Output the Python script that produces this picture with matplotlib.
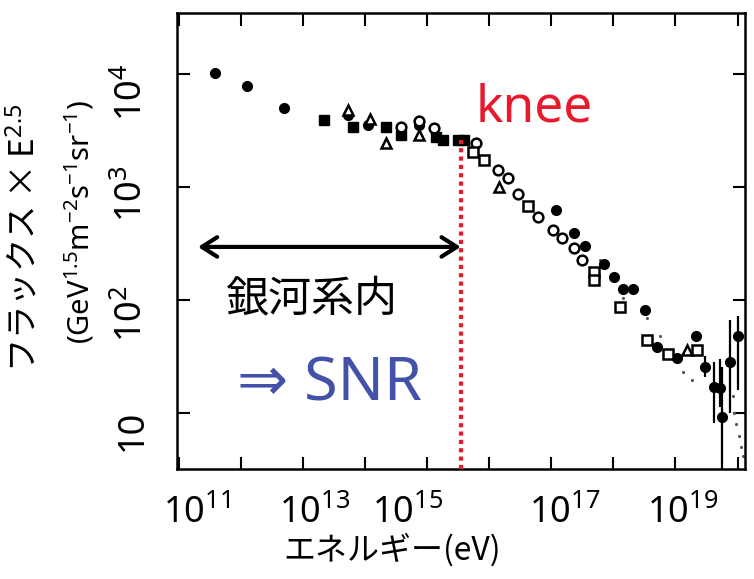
import numpy as np
import matplotlib
matplotlib.use('Agg')
import matplotlib.pyplot as plt
from matplotlib.transforms import ScaledTranslation
from matplotlib.ticker import NullLocator

plt.rcParams['font.family'] = ['Noto Sans', 'Noto Sans CJK JP', 'DejaVu Sans']
plt.rcParams['mathtext.fontset'] = 'custom'
plt.rcParams['mathtext.rm'] = 'Noto Sans'
plt.rcParams['mathtext.it'] = 'Noto Sans:italic'
plt.rcParams['mathtext.bf'] = 'Noto Sans:bold'

# ---------------- data (log10 of energy [eV], log10 of flux x E^2.5) ----------------
filled_circ_logE = [11.58, 12.09, 12.69, 13.73, 14.05, 14.87, 17.07, 17.36, 17.55, 17.85,
                    18.01, 18.16, 18.32, 18.51, 18.71, 19.03, 19.33]
filled_circ_logF = [4.01, 3.89, 3.70, 3.64, 3.55, 3.55, 2.80, 2.59, 2.48, 2.32,
                    2.20, 2.10, 2.10, 1.91, 1.58, 1.49, 1.68]

filled_sq_logE = [13.34, 13.81, 14.34, 14.58, 15.14, 15.25, 15.49, 15.59]
filled_sq_logF = [3.59, 3.53, 3.53, 3.46, 3.44, 3.42, 3.42, 3.42]

open_circ_logE = [14.58, 14.87, 15.11, 15.78, 16.14, 16.30, 16.47, 16.79, 17.02, 17.18, 17.36, 17.50]
open_circ_logF = [3.53, 3.58, 3.52, 3.39, 3.15, 3.08, 2.94, 2.73, 2.62, 2.55, 2.46, 2.35]

open_sq_logE = [15.74, 15.91, 16.63, 17.68, 17.68, 18.11, 18.54, 18.88, 19.35]
open_sq_logF = [3.31, 3.24, 2.83, 2.25, 2.18, 1.94, 1.65, 1.52, 1.56]

open_tri_logE = [13.73, 14.08, 14.34, 14.87, 16.15, 19.19]
open_tri_logF = [3.68, 3.60, 3.39, 3.46, 3.00, 1.56]

uhe_logE = [19.48, 19.62, 19.72, 19.75, 19.88, 20.00]
uhe_logF = [1.41, 1.23, 1.22, 0.96, 1.45, 1.68]
uhe_lo_logF = [1.32, 0.91, 1.05, 0.20, 1.00, 1.20]
uhe_hi_logF = [1.50, 1.45, 1.48, 1.41, 1.82, 1.86]

dots_logE = [17.79, 18.16, 18.54, 18.75, 19.12, 19.27, 19.92, 19.95, 19.98, 20.02, 20.05, 20.08]
dots_logF = [2.35, 2.02, 1.84, 1.68, 1.36, 1.29, 1.15, 1.00, 0.90, 0.80, 0.70, 0.62]

knee_logE = 15.54
knee_logF = 3.42

x_tick_exp = list(range(11, 21))
x_tick_labels = ['$10^{11}$', '', '$10^{13}$', '', '$10^{15}$', '', '$10^{17}$', '', '$10^{19}$', '']
y_tick_vals = [10, 100, 1000, 10000]
y_tick_labels = ['10', '$10^{2}$', '$10^{3}$', '$10^{4}$']

# ---------------- figure ----------------
W, H = 754, 579
fig = plt.figure(figsize=(W / 100, H / 100), dpi=100)
ax = fig.add_axes([177 / W, 1 - 469 / H, 568 / W, 456 / H])
ax.set_xscale('log')
ax.set_yscale('log')
ax.set_xlim(10 ** 10.97, 10 ** 20.12)
ax.set_ylim(10 ** 0.504, 10 ** 4.54)

p = lambda a: 10 ** np.asarray(a)
ms = 7
# error bars
ax.errorbar(p(uhe_logE), p(uhe_logF),
            yerr=[p(uhe_logF) - p(uhe_lo_logF), p(uhe_hi_logF) - p(uhe_logF)],
            fmt='o', color='black', ms=ms, elinewidth=1.6, capsize=0, zorder=3)
ax.plot(p(dots_logE), p(dots_logF), linestyle='none', marker='.', ms=2.5, color='#555555', zorder=2)
ax.plot(p(filled_circ_logE), p(filled_circ_logF), 'o', color='black', ms=ms, zorder=3)
ax.plot(p(filled_sq_logE), p(filled_sq_logF), 's', color='black', ms=ms - 0.5, zorder=3)
ax.plot(p(open_circ_logE), p(open_circ_logF), 'o', mfc='white', mec='black', mew=1.8, ms=ms, zorder=3)
ax.plot(p(open_sq_logE), p(open_sq_logF), 's', mfc='white', mec='black', mew=1.8, ms=ms - 0.5, zorder=3)
ax.plot(p(open_tri_logE), p(open_tri_logF), '^', mfc='white', mec='black', mew=1.8, ms=ms, zorder=3)

# knee line
ax.vlines(10 ** knee_logE, ax.get_ylim()[0], 10 ** knee_logF, colors='#E8192C',
          linestyles=(0, (1, 1)), linewidth=3, zorder=4)

# axes styling
for s in ax.spines.values():
    s.set_linewidth(1.8)
ax.set_xticks([10.0 ** e for e in x_tick_exp], x_tick_labels)
ax.set_yticks(y_tick_vals, y_tick_labels)
ax.xaxis.set_minor_locator(NullLocator())
ax.yaxis.set_minor_locator(NullLocator())
ax.tick_params(which='major', direction='in', top=True, right=True, length=9, width=1.5,
               labelsize=26, pad=19)
for lab in ax.get_yticklabels():
    lab.set_rotation(90)
    lab.set_va('center')
    lab.set_ha('right')

# per-label placement offsets (pixels)
x_off = {0: 18, 2: 12, 4: -20, 6: 13, 8: 7}
for i, t in enumerate(ax.xaxis.get_major_ticks()):
    if i in x_off:
        t.label1.set_transform(t.label1.get_transform() +
                               ScaledTranslation(x_off[i] / 100, 0, fig.dpi_scale_trans))
y_off = [17, 14, 7, 18]
for i, t in enumerate(ax.yaxis.get_major_ticks()):
    t.label1.set_transform(t.label1.get_transform() +
                           ScaledTranslation(0, -y_off[i] / 100, fig.dpi_scale_trans))

# annotations
ax.annotate('', xy=(10 ** knee_logE, 0.487), xycoords=('data', 'axes fraction'),
            xytext=(0.037, 0.487), textcoords='axes fraction',
            arrowprops=dict(arrowstyle='<->,head_length=1.1,head_width=0.7', lw=3,
                            color='black', shrinkA=0, shrinkB=0, mutation_scale=10))
ax.text(0.525, 0.761, 'knee', transform=ax.transAxes, color='#E8192C', fontsize=37,
        ha='left', va='baseline')
ax.text(0.0845, 0.371, '銀河系内', transform=ax.transAxes, color='black', fontsize=31,
        ha='left', va='center', family=['Noto Sans CJK JP', 'DejaVu Sans'])
ax.text(0.106, 0.151, '⇒ SNR', transform=ax.transAxes, color='#4352A8', fontsize=44,
        ha='left', va='baseline', family=['Noto Sans', 'DejaVu Sans'])

# axis titles
fig.text(24 / W, 1 - 238 / H, 'フラックス × E$^{2.5}$', rotation=90, ha='center', va='center',
         fontsize=24, family=['Noto Sans CJK JP', 'DejaVu Sans'])
fig.text(80 / W, 1 - 222 / H, '(GeV$^{1.5}$m$^{-2}$s$^{-1}$sr$^{-1}$)', rotation=90,
         ha='center', va='center', fontsize=21, family=['Noto Sans', 'DejaVu Sans'])
fig.text(392 / W, 1 - 550 / H, 'エネルギー(eV)', ha='center', va='center', fontsize=23,
         family=['Noto Sans CJK JP', 'DejaVu Sans'])

fig.savefig('out.png', dpi=100)
